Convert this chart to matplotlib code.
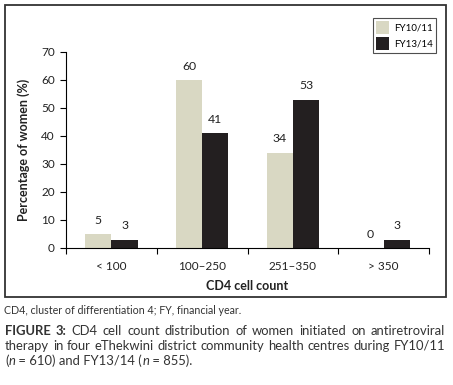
import numpy as np
import matplotlib
matplotlib.use('Agg')
import matplotlib.pyplot as plt
from matplotlib.patches import Rectangle

plt.rcParams['font.family'] = ['Lato', 'DejaVu Sans']

# data
categories = ['< 100', '100\u2013250', '251\u2013350', '> 350']
fy1011 = [5, 60, 34, 0]
fy1314 = [3, 41, 53, 3]
series_names = ['FY10/11', 'FY13/14']
yticks = [0, 10, 20, 30, 40, 50, 60, 70]

light = '#d9d8c3'
dark = '#231f20'
txt = '#222222'

fig = plt.figure(figsize=(4.53, 3.85), dpi=100)
W, H = 453, 385

# outer frame
fig.patches.append(Rectangle((4.5 / W, 1 - 297 / H), 441 / W, 292 / H,
                             transform=fig.transFigure, fill=False,
                             edgecolor='#333333', linewidth=1.3))

ax = fig.add_axes([66 / W, 1 - 248 / H, 363 / W, 196 / H])
x = np.arange(len(categories)) + 0.5
bw = 0.29
b1 = ax.bar(x - bw / 2, fy1011, bw, color=light, label=series_names[0])
b2 = ax.bar(x + bw / 2, fy1314, bw, color=dark, label=series_names[1])
for bars, vals in [(b1, fy1011), (b2, fy1314)]:
    for r, v in zip(bars, vals):
        ax.annotate(str(v), (r.get_x() + r.get_width() / 2, v),
                    xytext=(0, 6), textcoords='offset points',
                    ha='center', va='bottom', fontsize=8.8, color=txt)

ax.set_xlim(0, 4)
ax.set_ylim(0, 70)
ax.set_yticks(yticks)
ax.set_xticks(np.arange(5))
ax.set_xticklabels([])
ax.set_xticks(x, minor=True)
ax.set_xticklabels(categories, minor=True)
ax.tick_params(axis='x', which='minor', length=0, pad=9, labelsize=8.5, labelcolor=txt)
ax.tick_params(axis='x', which='major', length=4, width=0.8, direction='out')
ax.tick_params(axis='y', length=4, width=0.8, direction='out', labelsize=8.5, labelcolor=txt, pad=4)
for s in ['top', 'right']:
    ax.spines[s].set_visible(False)
for s in ['left', 'bottom']:
    ax.spines[s].set_linewidth(0.8)

ax.set_xlabel('CD4 cell count', fontsize=9, fontweight='bold', color=txt, labelpad=6)
ax.set_ylabel('Percentage of women (%)', fontsize=9, fontweight='bold', color=txt, labelpad=8)

leg = ax.legend(loc='upper right', bbox_to_anchor=(441 / W, 1 - 13 / H),
                bbox_transform=fig.transFigure, fontsize=7, frameon=True,
                fancybox=False, edgecolor='#222222', handlelength=1.3,
                handleheight=1.7, handletextpad=0.5, borderpad=0.35,
                labelspacing=0.25)
leg.get_frame().set_linewidth(0.8)

# captions
fig.text(4 / W, 1 - 311 / H, 'CD4, cluster of differentiation 4; FY, financial year.',
         fontsize=7.7, color='#333333', va='center')

renderer = fig.canvas.get_renderer()
left, right = 5, 445
cfs = 9.4


def draw_line(tokens, y, justify):
    # tokens: list of (word, weight, style)
    arts = []
    for w, wt, st in tokens:
        t = fig.text(0, 1 - y / H, w, fontsize=cfs, color='#333333', va='center',
                     fontweight=wt, fontstyle=st)
        arts.append(t)
    widths = [a.get_window_extent(renderer).width for a in arts]
    g = 3.0
    if justify and len(tokens) > 1:
        g = (right - left - sum(widths)) / (len(tokens) - 1)
    pos = left
    for i, a in enumerate(arts):
        a.set_x(pos / W)
        pos += widths[i] + g


n = ('normal', 'normal')
line1 = [('FIGURE', 'bold', 'normal'), ('3:', 'bold', 'normal')] + \
    [(w,) + n for w in 'CD4 cell count distribution of women initiated on antiretroviral'.split()]
line2 = [(w,) + n for w in 'therapy in four eThekwini district community health centres during FY10/11'.split()]
draw_line(line1, 331, True)
draw_line(line2, 346, True)

# third line with italic n
parts = [('(', 'normal'), ('n', 'italic'), (' = 610) and FY13/14 (', 'normal'),
         ('n', 'italic'), (' = 855).', 'normal')]
pos = left
for s, st in parts:
    t = fig.text(pos / W, 1 - 361 / H, s, fontsize=cfs, color='#333333', va='center', fontstyle=st)
    pos += t.get_window_extent(renderer).width

fig.savefig('out.png', dpi=100)
